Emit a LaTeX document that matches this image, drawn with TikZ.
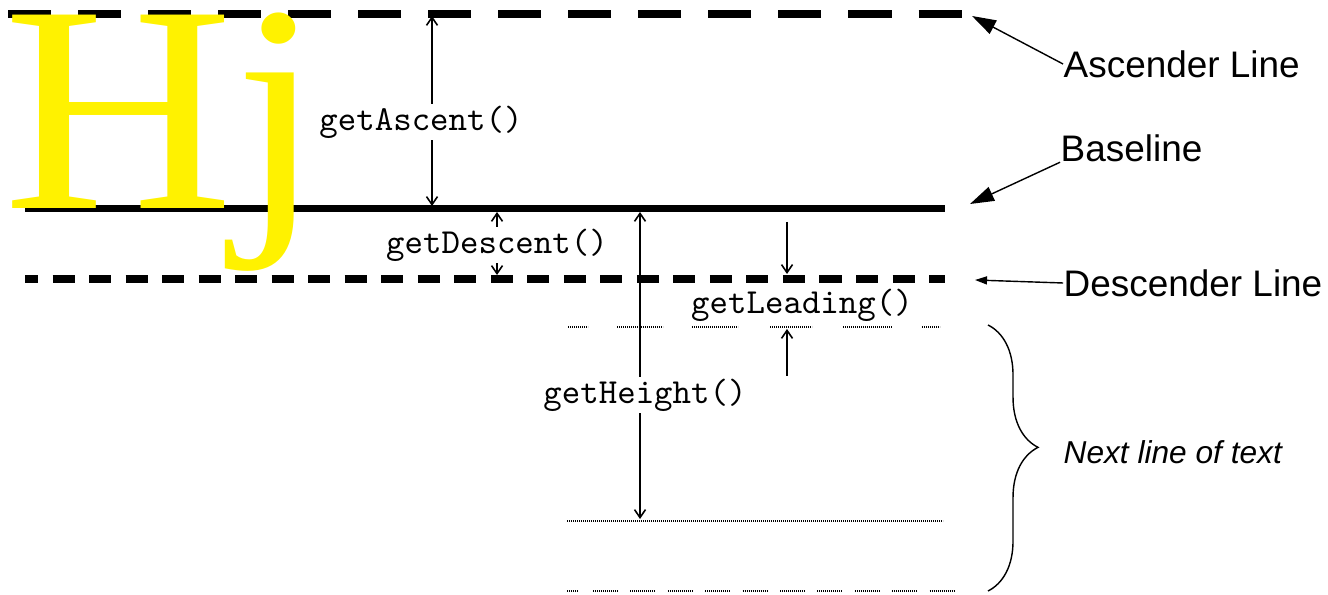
\documentclass[tikz,border=0pt]{standalone}
\usepackage{fontspec}
\setmainfont{Liberation Serif}
\setsansfont{Liberation Sans}
\usetikzlibrary{arrows.meta,decorations.pathreplacing}

\begin{document}
\begin{tikzpicture}[x=0.01cm,y=-0.01cm,
        metric/.style={fill=white,inner sep=0.5pt,font=\fontsize{10}{12}\selectfont\ttfamily},
        tag/.style={anchor=west,inner sep=0pt,font=\fontsize{10.5}{12}\selectfont\sffamily},
        dim/.style={line width=0.45pt,>={Straight Barb[length=0.08cm,width=0.11cm]}},
        pointer/.style={line width=0.4pt,-{Triangle[length=0.24cm,width=0.15cm]}},
        faint/.style={line width=0.012cm,dash pattern=on 0.01cm off 0.01cm}]
        \useasboundingbox (0,0) rectangle (1328,595);
        %% ascender, base and descender lines
        \draw[line width=0.08cm,dash pattern=on 0.43cm off 0.27cm] (8,14) -- (962,14);
        \draw[line width=0.07cm] (25,209) -- (945,209);
        \draw[line width=0.08cm,dash pattern=on 0.22cm off 0.145cm,dash phase=0.09cm] (25,279) -- (945,279);
        %% sample glyphs
        \node[anchor=base west,inner sep=0pt,text=yellow,font=\fontsize{84}{84}\selectfont,xscale=1.08,transform shape] (hj) at (3,209) {Hj};
        %% next line of text
        \foreach \a/\b in {568/588,617/663,692/738,770/812,843/892,922/940}
            \draw[faint] (\a,327) -- (\b,327);
        \draw[faint] (567,521) -- (943,521);
        \draw[faint] (567,591) -- (578,591);
        \foreach \i in {0,...,9}
            \draw[faint] ({593+37.4*\i},591) -- ++(25,0);
        %% metrics
        \coordinate (asctop) at (432,16);
        \coordinate (ascbot) at (432,206);
        \draw[dim,<->] (asctop) -- (ascbot);
        \node[metric] (ascent) at (421,122) {getAscent()};
        \coordinate (desctop) at (497,212);
        \coordinate (descbot) at (497,275);
        \draw[dim,<->] (desctop) -- (descbot);
        \node[metric] (descent) at (497,245) {getDescent()};
        \coordinate (htop) at (640,212);
        \coordinate (hbot) at (640,519);
        \draw[dim,<->] (htop) -- (hbot);
        \node[metric] (height) at (645,395) {getHeight()};
        \coordinate (leadA) at (787,222);
        \coordinate (leadB) at (787,274);
        \coordinate (leadC) at (787,376);
        \coordinate (leadD) at (787,329);
        \draw[dim,->] (leadA) -- (leadB);
        \draw[dim,->] (leadC) -- (leadD);
        \node[metric] (leading) at (802,305) {getLeading()};
        %% names of the lines
        \node[tag] (asclabel) at (1063,64) {Ascender Line};
        \coordinate (ascpt) at (972,16);
        \draw[pointer] (asclabel.west) -- (ascpt);
        \node[tag] (baselabel) at (1060,148) {Baseline};
        \coordinate (basept) at (970,204);
        \draw[pointer] (baselabel.south west) -- (basept);
        \node[tag] (desclabel) at (1063,283) {Descender Line};
        \coordinate (descpt) at (975,280);
        \draw[line width=0.4pt,-{Triangle[length=0.12cm,width=0.08cm]}] (desclabel.west) -- (descpt);
        %% brace
        \draw[line width=0.4pt,decorate,decoration={brace,amplitude=0.5cm,aspect=0.46}] (988,325) -- (988,591);
        \node[tag,font=\fontsize{9}{11}\selectfont\sffamily\itshape] (nextlabel) at (1063,452) {Next line of text};
\end{tikzpicture}
\end{document}
